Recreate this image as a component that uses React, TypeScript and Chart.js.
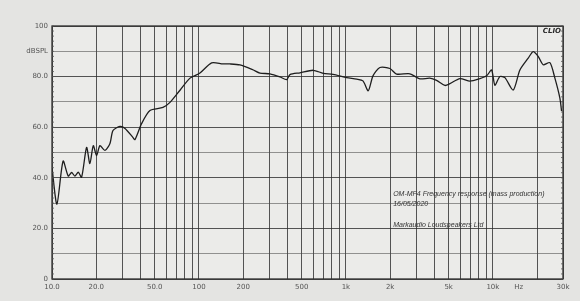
import React, { useEffect, useRef } from "react";
import { Chart, registerables } from "chart.js";

Chart.register(...registerables);

// Frequency response trace (Hz, dB SPL)
const freqHz = [
  10, 10.8, 11.9, 12.9, 13.6, 14.3, 15.1, 15.9, 17.2, 18.1, 19.1, 20.1, 21.2, 22.9, 24.8,
  26.0, 29.0, 31.4, 35.6, 36.7, 40.7, 46.4, 56.9, 63.5, 74.3, 86.9, 101.6, 121.9, 145.6,
  162.5, 190, 232.8, 260, 304, 355.6, 395, 416, 487, 599, 701, 817, 1012, 1183, 1306, 1419,
  1528, 1703, 1992, 2213, 2725, 3186, 3725, 4140, 4713, 5096, 5966, 6977, 8164, 9066, 9800,
  10320, 11160, 12070, 13750, 15270, 17390, 18800, 20330, 21980, 24430, 26420, 28570, 29330,
];
const splDb = [
  44, 29.6, 46.6, 40.7, 42.1, 40.7, 42.2, 40.2, 52.0, 45.6, 52.7, 48.8, 52.7, 50.8, 53.6,
  58.7, 60.3, 59.5, 55.9, 55.1, 61.4, 66.6, 67.8, 69.8, 74.6, 79.4, 81.4, 85.4, 85.0,
  85.0, 84.6, 82.7, 81.4, 81.1, 79.9, 78.8, 80.8, 81.5, 82.5, 81.3, 80.9, 79.6, 79.0, 78.3, 74.4,
  80.3, 83.6, 83.2, 81.0, 81.1, 79.1, 79.4, 78.5, 76.5, 77.2, 79.2, 78.2, 79.2, 80.3, 82.6,
  76.6, 80.0, 79.6, 74.7, 82.6, 87.3, 89.9, 88.0, 84.7, 85.5, 79.4, 71.5, 66.4,
];

// Axis ticks
const xTickValues = [
  10, 20, 30, 40, 50, 60, 70, 80, 90, 100, 200, 300, 400, 500, 600, 700, 800, 900,
  1000, 2000, 3000, 4000, 5000, 6000, 7000, 8000, 9000, 10000, 15000, 20000, 30000,
];
const xTickLabels = [
  "10.0", "20.0", "", "", "50.0", "", "", "", "", "100", "200", "", "", "500", "", "", "", "",
  "1k", "2k", "", "", "5k", "", "", "", "", "10k", "Hz", "", "30k",
];
const yTickValues = [0, 10, 20, 30, 40, 50, 60, 70, 80, 90, 100];
const yTickLabels = ["0", "", "20.0", "", "40.0", "", "60.0", "", "80.0", "dBSPL", "100"];

const noteLines = [
  "OM-MF4 Frequency response (mass production)",
  "16/05/2020",
  "",
  "Markaudio Loudspeakers Ltd",
];

export default function App() {
  const ref = useRef<HTMLCanvasElement | null>(null);

  useEffect(() => {
    if (!ref.current) return;
    const labelFor = (vals: number[], labels: string[], v: number) => {
      const i = vals.findIndex((t) => Math.abs(t - v) < 1e-6 * Math.max(1, t));
      return i >= 0 ? labels[i] : "";
    };

    const bgPlugin = {
      id: "paper",
      beforeDraw(chart: any) {
        const { ctx, chartArea: a, width, height } = chart;
        ctx.save();
        ctx.fillStyle = "#e4e4e2";
        ctx.fillRect(0, 0, width, height);
        ctx.fillStyle = "#ebebe9";
        ctx.fillRect(a.left, a.top, a.right - a.left, a.bottom - a.top);
        ctx.restore();
      },
      afterDraw(chart: any) {
        const { ctx, chartArea: a } = chart;
        ctx.save();
        ctx.strokeStyle = "#2e2e2e";
        ctx.lineWidth = 1.3;
        ctx.strokeRect(a.left, a.top, a.right - a.left, a.bottom - a.top);
        // minor ticks on y edges
        const ys = chart.scales.y;
        ctx.lineWidth = 0.8;
        ctx.strokeStyle = "#555";
        for (let v = 0; v <= 100; v += 2) {
          const py = ys.getPixelForValue(v);
          ctx.beginPath();
          ctx.moveTo(a.left, py);
          ctx.lineTo(a.left + 2, py);
          ctx.moveTo(a.right, py);
          ctx.lineTo(a.right - 2, py);
          ctx.stroke();
        }
        // CLIO mark
        ctx.font = "bold italic 7px 'DejaVu Sans'";
        ctx.textAlign = "right";
        ctx.textBaseline = "top";
        ctx.fillStyle = "#2a2a2a";
        ctx.fillText("CLIO", a.right - 2, a.top + 2);
        // notes
        ctx.font = "italic 7px 'Liberation Sans'";
        ctx.textAlign = "left";
        ctx.textBaseline = "middle";
        ctx.fillStyle = "#333";
        const xs = chart.scales.x;
        const x0 = xs.getPixelForValue(2000) + 3;
        noteLines.forEach((t, i) => {
          if (t) ctx.fillText(t, x0, ys.getPixelForValue(33.6) + i * 10.3);
        });
        ctx.restore();
      },
    };

    const chart = new Chart(ref.current, {
      type: "line",
      data: {
        datasets: [
          {
            data: freqHz.map((f, i) => ({ x: f, y: splDb[i] })),
            borderColor: "#1e1e1e",
            borderWidth: 1.3,
            pointRadius: 0,
            tension: 0.25,
            fill: false,
          },
        ],
      },
      options: {
        responsive: false,
        animation: false,
        layout: { padding: { left: 0, right: 17, top: 26, bottom: 0 } },
        plugins: { legend: { display: false }, tooltip: { enabled: false } },
        scales: {
          x: {
            type: "logarithmic",
            min: 10,
            max: 30000,
            afterBuildTicks: (s: any) => {
              s.ticks = xTickValues.map((v) => ({ value: v }));
            },
            afterFit: (s: any) => {
              s.height = 22;
            },
            border: { display: false },
            grid: {
              drawTicks: false,
              lineWidth: 1,
              color: (c: any) =>
                c.tick && c.tick.value === 15000 ? "rgba(0,0,0,0)" : "rgba(45,45,45,0.8)",
            },
            ticks: {
              autoSkip: false,
              maxRotation: 0,
              padding: 4,
              color: "#555",
              font: { family: "'DejaVu Sans'", size: 7 },
              callback: (v: any) => labelFor(xTickValues, xTickLabels, Number(v)),
            },
          },
          y: {
            min: 0,
            max: 100,
            afterBuildTicks: (s: any) => {
              s.ticks = yTickValues.map((v) => ({ value: v }));
            },
            afterFit: (s: any) => {
              s.width = 52;
            },
            border: { display: false },
            grid: {
              drawTicks: false,
              lineWidth: 1,
              color: (c: any) =>
                c.tick && c.tick.value % 20 === 10 ? "rgba(70,70,70,0.55)" : "rgba(45,45,45,0.8)",
            },
            ticks: {
              autoSkip: false,
              padding: 4,
              color: "#555",
              font: { family: "'DejaVu Sans'", size: 7 },
              callback: (v: any) => labelFor(yTickValues, yTickLabels, Number(v)),
            },
          },
        },
      },
      plugins: [bgPlugin],
    });
    return () => chart.destroy();
  }, []);

  return (
    <div style={{ position: "absolute", left: 0, top: 0, width: 580, height: 301 }}>
      <canvas ref={ref} width={580} height={301} />
    </div>
  );
}
